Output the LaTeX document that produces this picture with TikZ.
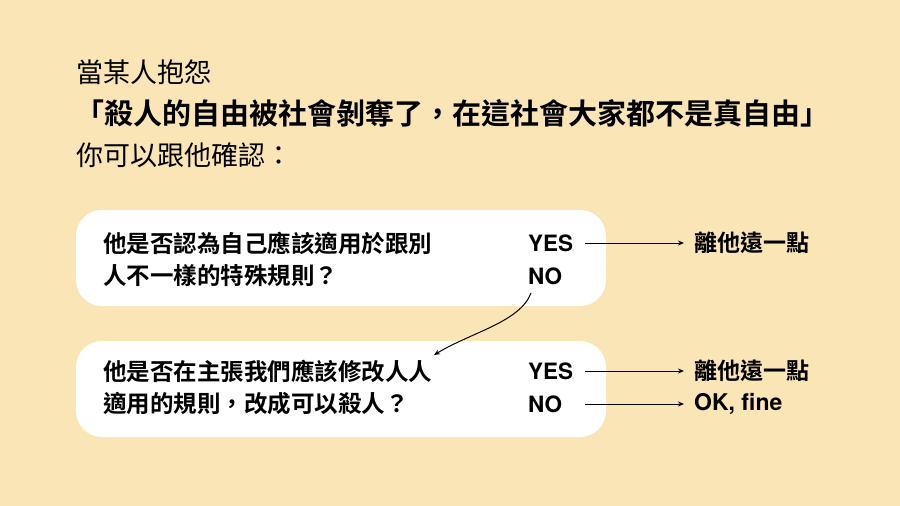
\documentclass[tikz,border=0pt]{standalone}
\usepackage{fontspec}
\usetikzlibrary{arrows.meta}
\newfontfamily\cjk{Noto Sans CJK TC}[BoldFont={Noto Sans CJK TC Bold}]
\newfontfamily\lat{TeX Gyre Heros}
\definecolor{bg}{HTML}{FAE5B6}
\tikzset{
  box/.style={fill=white, rounded corners=26pt, draw=none},
  title/.style={anchor=west, inner sep=0pt, font=\cjk\fontsize{27}{30}\selectfont},
  titleb/.style={anchor=west, inner sep=0pt, font=\cjk\bfseries\fontsize{29}{32}\selectfont},
  q/.style={anchor=west, inner sep=0pt, font=\cjk\bfseries\fontsize{23.5}{26}\selectfont},
  yn/.style={anchor=west, inner sep=0pt, font=\lat\bfseries\fontsize{22.5}{25}\selectfont},
  res/.style={anchor=west, inner sep=0pt, font=\cjk\bfseries\fontsize{23}{25}\selectfont},
  resl/.style={anchor=west, inner sep=0pt, font=\lat\bfseries\fontsize{23}{25}\selectfont},
  arr/.style={-{Stealth[length=6pt,width=5pt]}, line width=1pt, black},
}
\begin{document}
\begin{tikzpicture}[x=1pt,y=-1pt]
\fill[bg] (0,0) rectangle (900,506);
\useasboundingbox (0,0) rectangle (900,506);
\node[title] (t1) at (76,72) {當某人抱怨};
\node[titleb] (t2) at (75,113) {「殺人的自由被社會剝奪了，在這社會大家都不是真自由」};
\node[title] (t3) at (76,155) {你可以跟他確認：};

\fill[box] (76,210) rectangle (606,306);
\fill[box] (76,341) rectangle (606,437);

\node[q] (q1a) at (103,243) {他是否認為自己應該適用於跟別};
\node[q] (q1b) at (103,276) {人不一樣的特殊規則？};
\node[yn] (y1) at (528,243) {YES};
\node[yn] (n1) at (528,276) {NO};
\node[res] (r1) at (694,243) {離他遠一點};

\node[q] (q2a) at (103,371) {他是否在主張我們應該修改人人};
\node[q] (q2b) at (103,404) {適用的規則，改成可以殺人？};
\node[yn] (y2) at (528,371) {YES};
\node[yn] (n2) at (528,404) {NO};
\node[res] (r2) at (694,371) {離他遠一點};
\node[resl] (r3) at (694,404) {OK, fine};

\coordinate (c1s) at (531,293);
\coordinate (c1e) at (434,355);
\draw[arr] (585,243) -- ([xshift=-10pt]r1.west);
\draw[arr] (585,371) -- ([xshift=-10pt]r2.west);
\draw[arr] (585,404) -- ([xshift=-10pt]r3.west);
\draw[arr] (c1s) .. controls (520,322) and (472,332) .. (c1e);
\end{tikzpicture}
\end{document}
